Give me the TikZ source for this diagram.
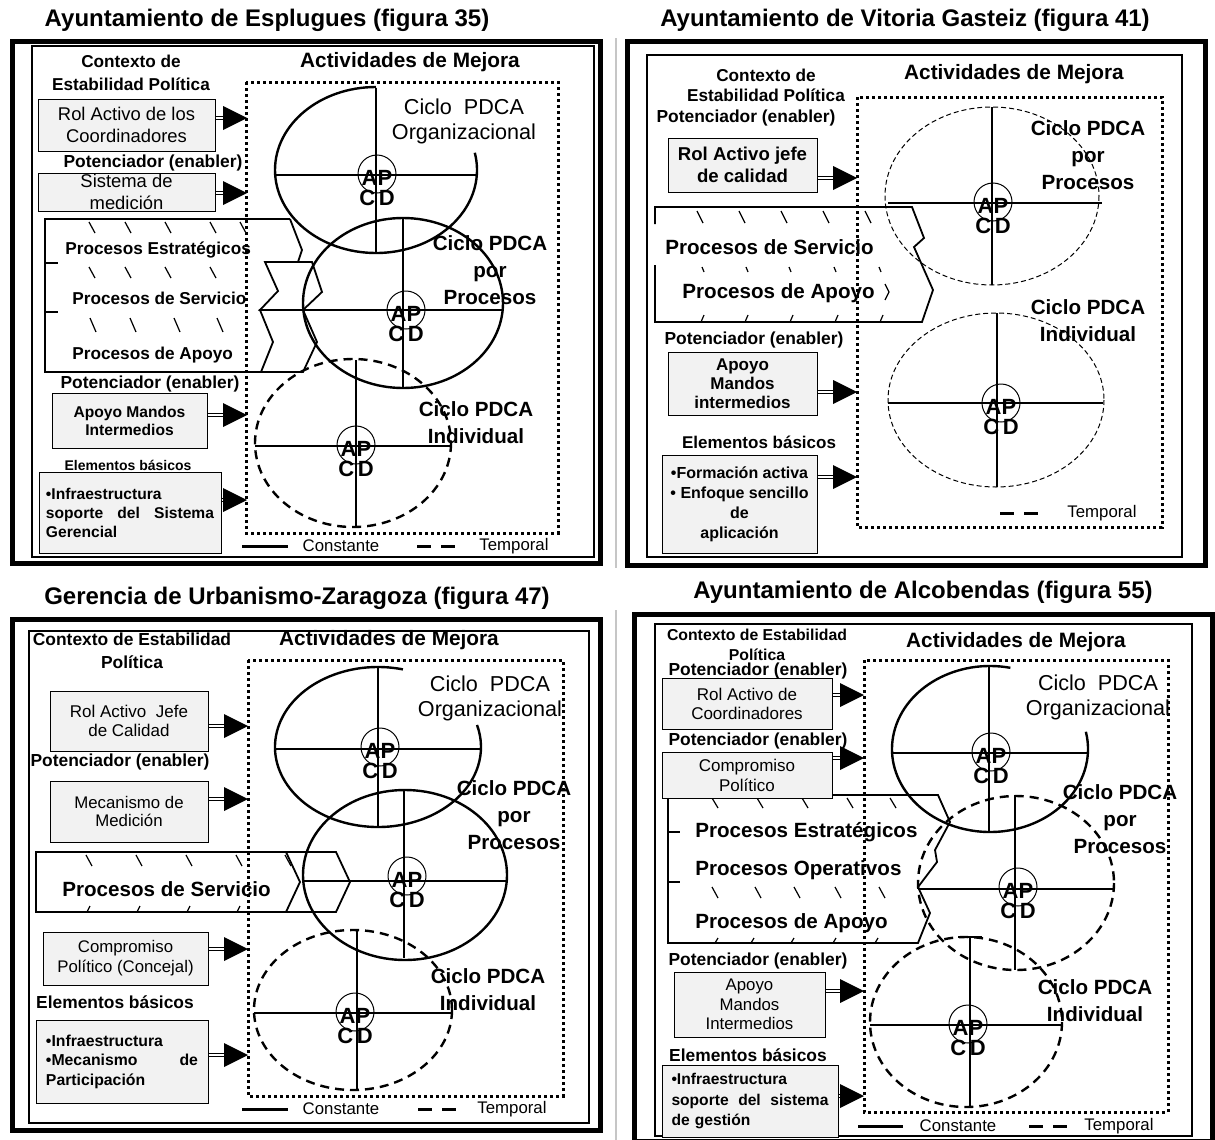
\documentclass[tikz,border=0pt]{standalone}
\usepackage{fontspec}
\setmainfont{Liberation Sans}
\usetikzlibrary{calc,positioning}

\newcommand\fnt[2]{\fontsize{#1}{#2}\selectfont}
% flecha de potenciador: fuste doble y punta rellena
\newcommand\enab[2]{%
  \draw[fuste] (#1) -- ($(#2)+(-20,0)$);
  \fill (#2) -- ++(-24,-12) -- ++(0,24) -- cycle;}
% circulo PDCA con AP / CD
\newcommand\pdca[3]{%
  \node[pdca] (#1) at (#2,#3) {};
  \node[apcd, yshift=-7pt] at (#1) {AP\\C\,D};}

\begin{document}
\begin{tikzpicture}[x=0.5pt, y=-0.5pt,
  titulo/.style={font=\fnt{12}{14}\bfseries},
  encab/.style={font=\fnt{8.7}{11.5}\bfseries, align=center, inner sep=0pt},
  mejora/.style={font=\fnt{10.4}{12}\bfseries},
  caja/.style={draw, fill=gray!10, line width=0.5pt, inner sep=0pt, align=center},
  proc/.style={font=\fnt{10.3}{12}\bfseries, inner sep=0pt, anchor=west},
  ciclo/.style={font=\fnt{10.3}{13.5}\bfseries, align=center, inner sep=0pt},
  cicloorg/.style={font=\fnt{10.8}{12.5}, align=center, inner sep=0pt},
  pdca/.style={draw, circle, line width=0.5pt, minimum size=19pt, inner sep=0pt},
  apcd/.style={font=\fnt{11}{10}\bfseries, align=center, inner sep=0pt},
  leyenda/.style={font=\fnt{8.4}{10}, inner sep=0pt},
  marco/.style={line width=2.5pt},
  interior/.style={line width=0.6pt},
  mejorabox/.style={line width=1.5pt, dash pattern=on 1.5pt off 1.5pt},
  solido/.style={line width=1.2pt},
  disc/.style={line width=1.2pt, dash pattern=on 4.5pt off 3pt},
  discfino/.style={line width=0.5pt, dash pattern=on 2.5pt off 1.5pt},
  cruz/.style={line width=0.6pt},
  banda/.style={line width=0.9pt, line join=miter},
  marca/.style={line width=0.6pt},
  fuste/.style={double, double distance=1pt, line width=0.55pt},
  leys/.style={line width=1.5pt},
  leyd/.style={line width=1.5pt, dash pattern=on 7pt off 5pt}]

  \useasboundingbox (0,0) rectangle (1215,1140);
  \draw[gray!45, line width=1pt] (616,38) -- (616,568) (616,610) -- (616,1140);

  % ================= Esplugues =================
  \node[titulo] (t1) at (267,20) {Ayuntamiento de Esplugues (figura 35)};
  \draw[marco] (12.5,41) rectangle (600,563.5);
  \draw[interior] (32,46) rectangle (594,557);
  \node[encab, font=\fnt{8.6}{11.5}\bfseries] (ctx1) at (131,73) {Contexto de\\Estabilidad Política};
  \node[mejora] (am1) at (410,62) {Actividades de Mejora};
  \draw[mejorabox] (246,82) rectangle (558,533);

  % ciclos
  \draw[solido] (376,170) ++(-90:101 and 83) arc[start angle=-90, end angle=-372, x radius=101, y radius=83];
  \draw[cruz] (376,88) -- (376,253) (275,175) -- (477,175);
  \pdca{o1}{377}{174}
  \draw[solido] (403,303) ellipse [x radius=100, y radius=85];
  \draw[cruz] (403,217) -- (403,388) (303,310) -- (503,310);
  \pdca{p1}{406}{310}
  \draw[disc] (353,443) ellipse [x radius=98, y radius=84];
  \draw[cruz] (356,360) -- (356,527) (255,446) -- (450,446);
  \pdca{i1}{356}{445}
  \node[cicloorg] (lo1) at (464,121) {Ciclo\ \ PDCA\\Organizacional};
  \node[ciclo] (lp1) at (490,270) {Ciclo PDCA\\por\\Procesos};
  \node[ciclo] (li1) at (476,423) {Ciclo PDCA\\Individual};

  % procesos
  \draw[banda] (290,219) -- (45,219) -- (45,372) -- (261,372);
  \draw[banda] (290,219) -- (302,250) -- (298,262);
  \draw[banda] (265,262) -- (312,262) -- (322,292) -- (303,310) -- (260,310) -- (278,291) -- cycle;
  \draw[banda] (260,310) -- (303,310) -- (317,342) -- (303,372) -- (261,372) -- (273,342) -- cycle;
  \draw[banda] (45,263) -- (58,263) (45,312) -- (58,312);
  \foreach \x in {92,128,168,213,243} \draw[marca] (\x-3,222) -- (\x+3,233);
  \foreach \x in {92,128,168,213} \draw[marca] (\x-3,267) -- (\x+3,278);
  \foreach \x in {93,133,177,220} \draw[marca] (\x-3,318) -- (\x+3,332);
  \node[proc, font=\fnt{8.6}{10}\bfseries] at (65,250) {Procesos Estratégicos};
  \node[proc, font=\fnt{8.6}{10}\bfseries] at (72,298) {Procesos de Servicio};
  \node[proc, font=\fnt{8.6}{10}\bfseries] at (72,355) {Procesos de Apoyo};

  % potenciadores
  \node[caja, minimum width=88.5pt, minimum height=26pt, font=\fnt{9.2}{11}] (b11) at (126.5,125) {Rol Activo de los\\Coordinadores};
  \coordinate (e11) at (247,118);
  \enab{b11.east |- e11}{e11}
  \node[encab] (pot11) at (153,163) {Potenciador (enabler)};
  \node[caja, minimum width=88.5pt, minimum height=19pt, font=\fnt{9.2}{11}] (b12) at (126.5,192) {Sistema de\\medición};
  \coordinate (e12) at (247,193);
  \enab{b12.east |- e12}{e12}
  \node[encab] (pot12) at (150,384) {Potenciador (enabler)};
  \node[caja, minimum width=77.5pt, minimum height=27.5pt, font=\fnt{7.8}{9}\bfseries] (b13) at (129.5,420.5) {Apoyo Mandos\\Intermedios};
  \coordinate (e13) at (247,415);
  \enab{b13.east |- e13}{e13}
  \node[encab, font=\fnt{7}{8}\bfseries] (ele1) at (128,465) {Elementos básicos};
  \node[caja, align=left, text width=84pt, inner xsep=3.5pt, minimum height=40.5pt, font=\fnt{7.8}{9.5}\bfseries] (b14) at (130,512.5) {•Infraestructura\\soporte\hfill del\hfill Sistema\\Gerencial};
  \coordinate (e14) at (247,500);
  \enab{b14.east |- e14}{e14}

  % leyenda
  \draw[leys] (242,546) -- (288,546);
  \node[leyenda] at (341,546) {Constante};
  \draw[leyd] (417,546) -- (458,546);
  \node[leyenda] at (514,546) {Temporal};

  % ================= Vitoria Gasteiz =================
  \node[titulo] (t2) at (905,20) {Ayuntamiento de Vitoria Gasteiz (figura 41)};
  \draw[marco] (627.5,41) rectangle (1205,565.5);
  \draw[interior] (647,55) rectangle (1182,557);
  \node[encab, font=\fnt{8.6}{10}\bfseries] (ctx2) at (766,85) {Contexto de\\Estabilidad Política};
  \node[mejora] (am2) at (1014,74) {Actividades de Mejora};
  \draw[mejorabox] (857,97) rectangle (1162,527);

  \draw[discfino] (992,196) ellipse [x radius=107, y radius=89];
  \draw[cruz] (992,107) -- (992,285) (888,203) -- (1102,203);
  \pdca{p2}{993}{202}
  \draw[discfino] (996,400) ellipse [x radius=108, y radius=87];
  \draw[cruz] (997,313) -- (997,487) (888,403) -- (1103,403);
  \pdca{i2}{1001}{403}
  \node[ciclo] (lp2) at (1088,155) {Ciclo PDCA\\por\\Procesos};
  \node[ciclo] (li2) at (1088,321) {Ciclo PDCA\\Individual};

  \draw[banda] (655,224) -- (655,207) -- (912,207) -- (924,238) -- (914,247) -- (933,290) -- (922,322) -- (655,322) -- (655,265);
  \draw[marca] (885,284) -- (889,292) -- (885,300);
  \foreach \x in {700,742,784,826,868} \draw[marca] (\x-3,211) -- (\x+3,223);
  \foreach \x in {703,747,790,835,880} \draw[marca] (\x-1,267) -- (\x+1,272);
  \foreach \x in {703,747,792,837,882} \draw[marca] (\x-2,322) -- (\x+1,315);
  \node[proc] at (665,247) {Procesos de Servicio};
  \node[proc] at (682,293) {Procesos de Apoyo};

  \node[encab] (pot21) at (746,118) {Potenciador (enabler)};
  \node[caja, minimum width=74.5pt, minimum height=27pt, font=\fnt{9.3}{11}\bfseries] (b21) at (742.5,165) {Rol Activo jefe\\de calidad};
  \coordinate (e21) at (857,178);
  \enab{b21.east |- e21}{e21}
  \node[encab] (pot22) at (754,340) {Potenciador (enabler)};
  \node[caja, minimum width=74.5pt, minimum height=31.5pt, font=\fnt{8.5}{9.5}\bfseries] (b23) at (742.5,383.5) {Apoyo\\Mandos\\intermedios};
  \coordinate (e23) at (857,392);
  \enab{b23.east |- e23}{e23}
  \node[encab, font=\fnt{8.5}{10}\bfseries] (ele2) at (759,442) {Elementos básicos};
  \node[caja, minimum width=77.5pt, minimum height=49pt, font=\fnt{8}{10}\bfseries] (b24) at (739.5,504) {•Formación activa\\• Enfoque sencillo\\de\\aplicación};
  \coordinate (e24) at (857,477);
  \enab{b24.east |- e24}{e24}

  \draw[leyd] (1000,513) -- (1043,513);
  \node[leyenda] at (1102,513) {Temporal};

  % ================= Zaragoza =================
  \node[titulo] (t3) at (297,598) {Gerencia de Urbanismo-Zaragoza (figura 47)};
  \draw[marco] (12,619) rectangle (600,1130);
  \draw[interior] (29,631) rectangle (589,1123);
  \node[encab] (ctx3) at (132,651) {Contexto de Estabilidad\\Política};
  \node[mejora] (am3) at (389,640) {Actividades de Mejora};
  \draw[mejorabox] (248,660) rectangle (563,1096);

  \draw[solido] (378,747) ++(-76:103 and 80) arc[start angle=-76, end angle=-376, x radius=103, y radius=80];
  \draw[cruz] (378,667) -- (378,826) (275,749) -- (480,749);
  \pdca{o3}{380}{747}
  \draw[solido] (405,875) ellipse [x radius=102, y radius=85];
  \draw[cruz] (404,790) -- (404,958) (304,881) -- (507,881);
  \pdca{p3}{407}{876}
  \draw[disc] (353,1010) ellipse [x radius=99, y radius=80];
  \draw[cruz] (357,930) -- (357,1091) (254,1013) -- (451,1013);
  \pdca{i3}{355}{1012}
  \node[cicloorg] (lo3) at (490,698) {Ciclo\ \ PDCA\\Organizacional};
  \node[ciclo] (lp3) at (514,815) {Ciclo PDCA\\por\\Procesos};
  \node[ciclo] (li3) at (488,990) {Ciclo PDCA\\Individual};

  \draw[banda] (36,852) -- (336,852) -- (350,882) -- (336,912) -- (36,912) -- cycle;
  \draw[banda] (286,852) -- (300,882) -- (286,912);
  \foreach \x in {89,139,189,239,288} \draw[marca] (\x-3,855) -- (\x+3,866);
  \foreach \x in {89,139,189,239} \draw[marca] (\x-2,912) -- (\x+1,906);
  \node[proc] at (62,889) {Procesos de Servicio};

  \node[caja, minimum width=79pt, minimum height=30pt, font=\fnt{8.5}{9.5}] (b31) at (129,721) {Rol Activo\ \ Jefe\\de Calidad};
  \coordinate (e31) at (248,726);
  \enab{b31.east |- e31}{e31}
  \node[encab] (pot3) at (120,762) {Potenciador (enabler)};
  \node[caja, minimum width=79pt, minimum height=30.5pt, font=\fnt{8.4}{9}] (b32) at (129,811.5) {Mecanismo de\\Medición};
  \coordinate (e32) at (248,799);
  \enab{b32.east |- e32}{e32}
  \node[caja, minimum width=82.5pt, minimum height=26.5pt, font=\fnt{8.4}{10}] (b33) at (125.5,958.5) {Compromiso\\Político (Concejal)};
  \coordinate (e33) at (248,949);
  \enab{b33.east |- e33}{e33}
  \node[encab] (ele3) at (115,1002) {Elementos básicos};
  \node[caja, align=left, text width=76pt, inner xsep=5pt, minimum height=41.5pt, font=\fnt{7.9}{9.75}\bfseries] (b34) at (122,1061.5) {•Infraestructura\\•Mecanismo\hfill de\\Participación};
  \coordinate (e34) at (248,1055);
  \enab{b34.east |- e34}{e34}

  \draw[leys] (242,1109) -- (288,1109);
  \node[leyenda] at (341,1109) {Constante};
  \draw[leyd] (418,1109) -- (461,1109);
  \node[leyenda] at (512,1109) {Temporal};

  % ================= Alcobendas =================
  \node[titulo] (t4) at (923,592) {Ayuntamiento de Alcobendas (figura 55)};
  \draw[marco] (634,614) rectangle (1212,1141);
  \draw[interior] (655,624) rectangle (1192,1136);
  \node[encab, font=\fnt{7.9}{10}\bfseries] (ctx4) at (757,645) {Contexto de Estabilidad\\Política};
  \node[mejora] (am4) at (1016,642) {Actividades de Mejora};
  \draw[mejorabox] (864,660) rectangle (1168,1112);

  \draw[solido] (990,749) ++(-78:98 and 83) arc[start angle=-78, end angle=-372, x radius=98, y radius=83];
  \draw[cruz] (989,666) -- (989,831) (892,753) -- (1088,753);
  \pdca{o4}{991}{752}
  \draw[disc] (1016,883) ellipse [x radius=98, y radius=87];
  \draw[cruz] (1015,795) -- (1015,970) (918,889) -- (1114,889);
  \pdca{p4}{1018}{887}
  \draw[disc] (966,1022) ellipse [x radius=96, y radius=85];
  \draw[cruz] (970,937) -- (970,1107) (958,937) -- (982,937) (870,1025) -- (1062,1025);
  \pdca{i4}{968}{1024}
  \node[cicloorg] (lo4) at (1098,697) {Ciclo\ \ PDCA\\Organizacional};
  \node[ciclo] (lp4) at (1120,819) {Ciclo PDCA\\por\\Procesos};
  \node[ciclo] (li4) at (1095,1001) {Ciclo PDCA\\Individual};

  \draw[banda] (668,795) -- (938,795) -- (950,822) -- (935,850) -- (937,862) -- (918,887) -- (930,913) -- (918,943) -- (668,943) -- cycle;
  \draw[banda] (668,832) -- (680,832) (668,882) -- (680,882);
  \foreach \x in {715,760,805,850,893} \draw[marca] (\x-3,798) -- (\x+3,808);
  \foreach \x in {715,758,797,838,882} \draw[marca] (\x-3,887) -- (\x+3,898);
  \foreach \x in {717,753,793,835,877} \draw[marca] (\x-2,943) -- (\x+1,938);
  \node[proc] at (695,832) {Procesos Estratégicos};
  \node[proc] at (695,870) {Procesos Operativos};
  \node[proc] at (695,923) {Procesos de Apoyo};

  \node[encab] (pot41) at (758,671) {Potenciador (enabler)};
  \node[caja, minimum width=85pt, minimum height=25.5pt, font=\fnt{8.5}{9.5}] (b41) at (747,703.5) {Rol Activo de\\Coordinadores};
  \coordinate (e41) at (864,695);
  \enab{b41.east |- e41}{e41}
  \node[encab] (pot42) at (758,741) {Potenciador (enabler)};
  \node[caja, minimum width=85pt, minimum height=23pt, font=\fnt{8.5}{10}] (b42) at (747,775) {Compromiso\\Político};
  \coordinate (e42) at (864,758);
  \enab{b42.east |- e42}{e42}
  \node[encab] (pot43) at (758,961) {Potenciador (enabler)};
  \node[caja, minimum width=75.5pt, minimum height=32.5pt, font=\fnt{8.4}{9.75}] (b43) at (749.5,1004.5) {Apoyo\\Mandos\\Intermedios};
  \coordinate (e43) at (864,991);
  \enab{b43.east |- e43}{e43}
  \node[encab] (ele4) at (748,1055) {Elementos básicos};
  \node[caja, align=left, text width=78.5pt, inner xsep=4.75pt, minimum height=36pt, font=\fnt{7.8}{10.25}\bfseries] (b44) at (750,1101) {•Infraestructura\\soporte\hfill del\hfill sistema\\de gestión};
  \coordinate (e44) at (864,1096);
  \enab{b44.east |- e44}{e44}

  \draw[leys] (858,1126) -- (903,1126);
  \node[leyenda] at (958,1126) {Constante};
  \draw[leyd] (1029,1126) -- (1072,1126);
  \node[leyenda] at (1119,1126) {Temporal};
\end{tikzpicture}
\end{document}
